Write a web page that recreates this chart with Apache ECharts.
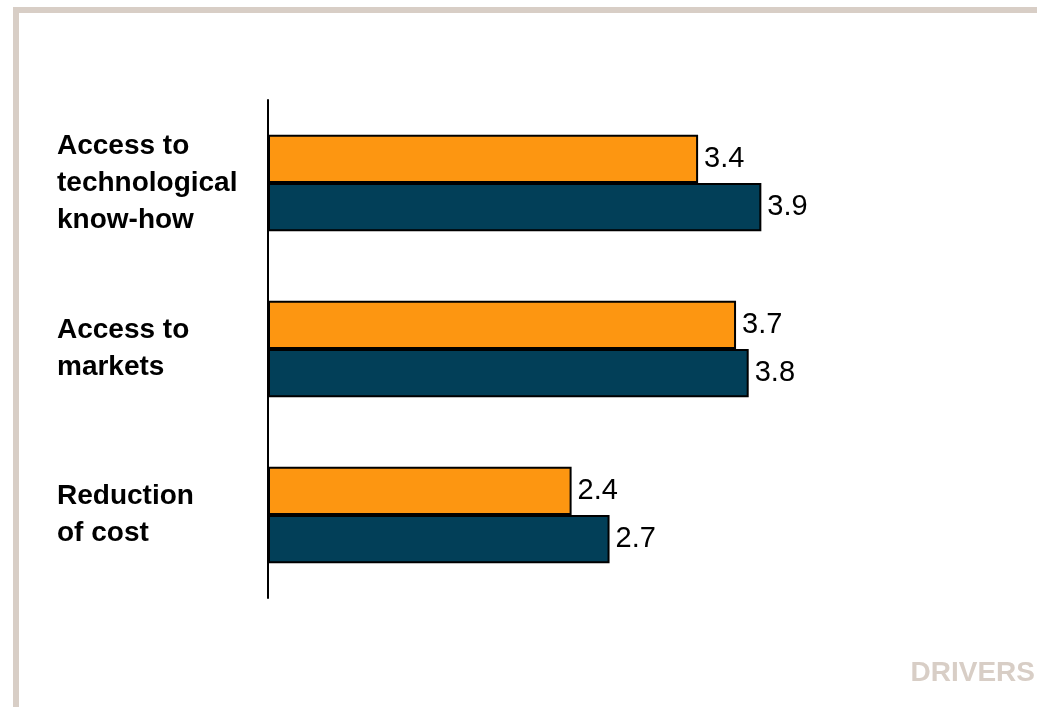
<!DOCTYPE html>
<html>
<head>
<meta charset="utf-8">
<script src="https://cdn.jsdelivr.net/npm/echarts@6/dist/echarts.min.js"></script>
<style>
  html, body { margin: 0; padding: 0; background: #fff; }
  #chart { width: 1037px; height: 707px; }
</style>
</head>
<body>
<div id="chart"></div>
<script>
const categories = ['Access to\ntechnological\nknow-how', 'Access to\nmarkets', 'Reduction\nof cost']
const seriesA = [3.4, 3.7, 2.4]
const seriesB = [3.9, 3.8, 2.7]

const frameColor = '#d8cec6'

const chart = echarts.init(document.getElementById('chart'))
chart.setOption({
  animation: false,
  grid: { left: 268, right: 10, top: 100, bottom: 109 },
  xAxis: {
    type: 'value',
    min: 0,
    max: 6,
    show: false
  },
  yAxis: {
    type: 'category',
    data: categories,
    inverse: true,
    axisLine: { lineStyle: { color: '#000', width: 2 } },
    axisTick: { show: false },
    axisLabel: {
      align: 'left',
      margin: 211,
      color: '#000',
      fontFamily: 'Liberation Sans, Arial, sans-serif',
      fontWeight: 'bold',
      fontSize: 28,
      lineHeight: 37
    }
  },
  series: [
    {
      type: 'bar',
      data: seriesA,
      barGap: '0%',
      barCategoryGap: '42%',
      itemStyle: { color: '#fd9611', borderColor: '#000', borderWidth: 2 },
      label: {
        show: true, position: 'right', distance: 6, color: '#000',
        fontFamily: 'Liberation Sans, Arial, sans-serif', fontSize: 29
      }
    },
    {
      type: 'bar',
      data: seriesB,
      itemStyle: { color: '#023f58', borderColor: '#000', borderWidth: 2 },
      label: {
        show: true, position: 'right', distance: 6, color: '#000',
        fontFamily: 'Liberation Sans, Arial, sans-serif', fontSize: 29
      }
    }
  ],
  graphic: [
    { type: 'rect', shape: { x: 13, y: 7, width: 1024, height: 6 }, style: { fill: frameColor } },
    { type: 'rect', shape: { x: 13, y: 7, width: 6, height: 700 }, style: { fill: frameColor } },
    {
      type: 'text', right: 2, top: 659,
      style: {
        text: 'DRIVERS', fill: frameColor,
        font: 'bold 28px "Liberation Sans", Arial, sans-serif'
      }
    }
  ]
})
</script>
</body>
</html>
